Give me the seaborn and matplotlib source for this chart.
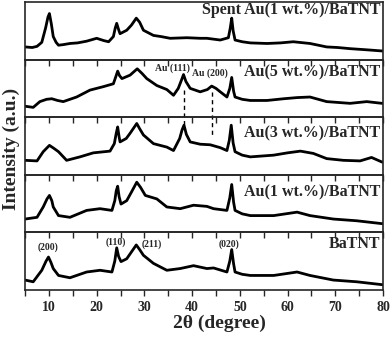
import numpy as np
import matplotlib
matplotlib.use("Agg")
import matplotlib.pyplot as plt
from matplotlib.ticker import MultipleLocator
import seaborn as sns

sns.set_style("ticks")
plt.rcParams['font.family'] = ['Liberation Serif', 'DejaVu Serif']
plt.rcParams['font.weight'] = 'bold'
plt.rcParams['axes.labelweight'] = 'bold'

# XRD patterns (intensity as fraction of panel height)
tt_spent = [5, 6.5, 7.5, 8.5, 9.3, 9.8, 10.1, 10.5, 10.9, 11.5, 12.0, 13, 14.4, 16, 17.9, 20.0,
            21.5, 22.5, 23.5, 23.9, 24.2, 24.6, 24.9, 26.3, 27.3, 28.3, 29.0, 29.8, 31.9, 33.5,
            35.4, 38.9, 41.7, 43.1, 45.9, 47.6, 48.0, 48.3, 48.6, 49.0, 50.5, 52.2, 55.7, 58.5,
            61.2, 64.7, 68.2, 70.5, 73.1, 76.6, 79.8, 80]
i_spent = [0.22, 0.21, 0.23, 0.30, 0.55, 0.74, 0.80, 0.62, 0.40, 0.30, 0.25, 0.26, 0.28, 0.29, 0.32, 0.37,
           0.33, 0.31, 0.40, 0.55, 0.63, 0.52, 0.45, 0.51, 0.60, 0.72, 0.65, 0.51, 0.42, 0.40,
           0.37, 0.38, 0.37, 0.37, 0.34, 0.38, 0.55, 0.72, 0.50, 0.34, 0.31, 0.29, 0.28, 0.29,
           0.31, 0.28, 0.22, 0.21, 0.19, 0.17, 0.15, 0.15]

tt_au5 = [5, 6.7, 8.1, 9.5, 10.6, 11.8, 13.0, 15.8, 18.6, 21.4, 23.5, 24.0, 24.4, 24.8, 25.3, 27.0,
          28.5, 29.5, 30.5, 32.6, 34.7, 36.1, 37.1, 37.8, 38.2, 38.7, 39.6, 41.7, 43.2, 44.1, 45.0,
          45.9, 47.3, 47.9, 48.3, 48.7, 49.0, 50.5, 52.2, 55.7, 59.2, 62, 64.7, 68.2, 73.1, 76.6, 79.8, 80]
i_au5 = [0.19, 0.17, 0.27, 0.31, 0.32, 0.29, 0.27, 0.35, 0.47, 0.53, 0.58, 0.70, 0.80, 0.72, 0.67, 0.73,
         0.84, 0.76, 0.67, 0.55, 0.48, 0.38, 0.50, 0.65, 0.74, 0.62, 0.50, 0.44, 0.48, 0.54, 0.50,
         0.44, 0.35, 0.50, 0.69, 0.45, 0.35, 0.31, 0.29, 0.29, 0.32, 0.34, 0.35, 0.27, 0.24, 0.27, 0.24, 0.24]

tt_au3 = [5, 7.5, 8.8, 10.1, 11.0, 12.0, 13.7, 16.5, 19.3, 22.8, 23.7, 24.1, 24.4, 24.7, 24.9, 26.2,
          27.0, 28.4, 29.0, 29.8, 31.9, 34.7, 36.1, 37.4, 37.9, 38.3, 38.8, 39.6, 41.7, 43.8, 45.9,
          47.3, 47.8, 48.2, 48.6, 49.0, 50.5, 52.2, 57.1, 60, 62.7, 65.4, 68.2, 71.7, 75.2, 77.6, 79.8, 80]
i_au3 = [0.25, 0.24, 0.40, 0.51, 0.46, 0.40, 0.25, 0.31, 0.38, 0.41, 0.54, 0.72, 0.83, 0.66, 0.57, 0.63,
         0.72, 0.89, 0.80, 0.69, 0.54, 0.48, 0.42, 0.63, 0.78, 0.86, 0.70, 0.57, 0.53, 0.52, 0.47,
         0.42, 0.60, 0.86, 0.55, 0.40, 0.34, 0.31, 0.34, 0.38, 0.41, 0.37, 0.28, 0.25, 0.24, 0.30, 0.22, 0.22]

tt_au1 = [5, 7.5, 8.8, 9.6, 10.1, 10.6, 10.9, 12.0, 14.4, 17.9, 20.7, 23.2, 23.8, 24.1, 24.4, 24.7,
          25.1, 26.3, 27.3, 28.4, 29.2, 30.2, 32.6, 34.7, 37.5, 40.3, 43.1, 44.5, 47.3, 47.9, 48.3,
          48.7, 49.0, 50.5, 52.2, 57.1, 62.0, 64.7, 69.6, 74.5, 79.8, 80]
i_au1 = [0.23, 0.26, 0.44, 0.58, 0.64, 0.55, 0.44, 0.29, 0.26, 0.38, 0.41, 0.38, 0.55, 0.72, 0.80, 0.62,
         0.49, 0.55, 0.70, 0.87, 0.78, 0.64, 0.58, 0.44, 0.41, 0.47, 0.45, 0.41, 0.38, 0.60, 0.83,
         0.52, 0.38, 0.32, 0.29, 0.29, 0.35, 0.29, 0.23, 0.20, 0.15, 0.15]

tt_batnt = [5, 6.7, 8.5, 9.4, 9.9, 10.4, 10.9, 12.0, 14.4, 17.9, 20.7, 23.2, 23.8, 24.2, 24.6, 25.1,
            26.3, 27.3, 28.3, 29.0, 29.8, 31.9, 34.7, 37.5, 40.3, 43.1, 44.5, 47.3, 47.9, 48.3, 48.7,
            49.0, 50.5, 52.2, 57.1, 62.0, 64.7, 69.6, 74.5, 79.8, 80]
i_batnt = [0.17, 0.14, 0.34, 0.50, 0.57, 0.48, 0.37, 0.25, 0.21, 0.31, 0.34, 0.31, 0.50, 0.73, 0.58, 0.49,
           0.54, 0.66, 0.78, 0.70, 0.60, 0.46, 0.34, 0.37, 0.42, 0.37, 0.38, 0.31, 0.50, 0.70, 0.45,
           0.31, 0.27, 0.25, 0.25, 0.31, 0.25, 0.17, 0.14, 0.09, 0.09]

samples = ["Spent Au(1 wt.%)/BaTNT", "Au(5 wt.%)/BaTNT", "Au(3 wt.%)/BaTNT",
           "Au(1 wt.%)/BaTNT", "BaTNT"]
label_y = [0.79, 0.70, 0.64, 0.63, 0.73]
patterns = [(tt_spent, i_spent), (tt_au5, i_au5), (tt_au3, i_au3),
            (tt_au1, i_au1), (tt_batnt, i_batnt)]

# reflections marked on BaTNT pattern
hkl_labels = ["(200)", "(110)", "(211)", "(020)"]
hkl_pos = [9.7, 24.1, 31.6, 47.7]
hkl_y = [0.69, 0.78, 0.75, 0.755]

au_labels = ["Au (111)", "Au (200)"]
au_text_pos = [35.8, 43.75]
au_text_y = [0.80, 0.72]
au_peaks = [38.25, 44.1]
au_dash = [(0.47, -0.19), (0.44, -0.34)]

fig, axes = plt.subplots(5, 1, figsize=(3.92, 3.39), dpi=100, sharex=True)
fig.subplots_adjust(left=0.064, right=0.977, top=0.994, bottom=0.145, hspace=0)

for ax, (tt, inten), name, ly in zip(axes, patterns, samples, label_y):
    ax.patch.set_visible(False)
    sns.lineplot(x=tt, y=inten, ax=ax, color='black', lw=2.0, estimator=None)
    ax.set_xlim(5, 80)
    ax.set_ylim(0, 1)
    ax.set_yticks([])
    ax.set_ylabel('')
    ax.xaxis.set_major_locator(MultipleLocator(10))
    ax.xaxis.set_minor_locator(MultipleLocator(5))
    ax.tick_params(axis='x', which='both', direction='out', length=4, width=1,
                   top=False, labelsize=10, pad=4)
    for sp in ax.spines.values():
        sp.set_linewidth(1.2)
    ax.text(0.993, ly, name, transform=ax.transAxes, ha='right', va='baseline',
            fontsize=11.5, fontweight='bold')

for lab, x, y in zip(hkl_labels, hkl_pos, hkl_y):
    axes[4].text(x, y, lab, ha='center', va='baseline', fontsize=7, fontweight='bold')

for lab, x, y in zip(au_labels, au_text_pos, au_text_y):
    axes[1].text(x, y, lab, ha='center', va='baseline', fontsize=7, fontweight='bold')
for x, (y0, y1) in zip(au_peaks, au_dash):
    axes[1].plot([x, x], [y0, y1], color='black', lw=1, ls=(0, (3, 2.5)), clip_on=False)

axes[4].set_xlabel('2θ (degree)', fontsize=14, fontweight='bold')
axes[4].xaxis.set_label_coords(0.542, -0.43)
fig.text(0.028, 0.56, 'Intensity (a.u.)', rotation=90, ha='center', va='center',
         fontsize=14, fontweight='bold')

fig.savefig('out.png', dpi=100)
